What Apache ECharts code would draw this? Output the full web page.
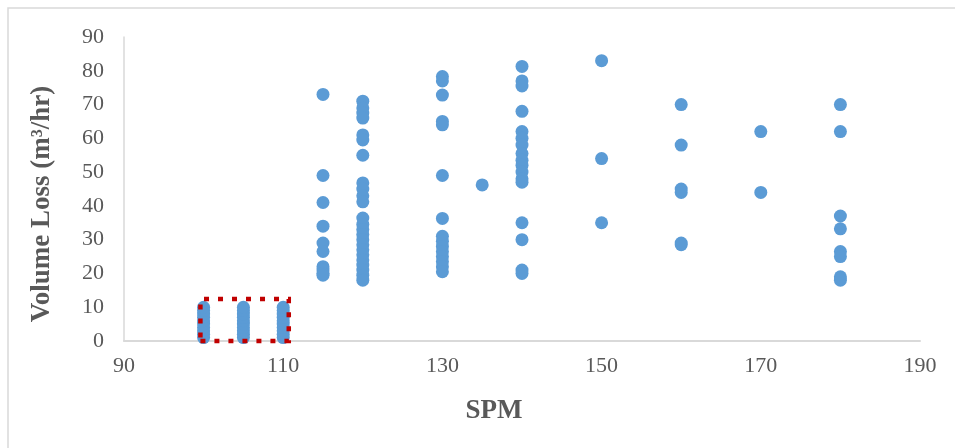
<!DOCTYPE html>
<html>
<head>
<meta charset="utf-8">
<script src="https://cdn.jsdelivr.net/npm/echarts@6/dist/echarts.min.js"></script>
<style>
  html, body { margin: 0; padding: 0; background: #ffffff; }
  #chart { width: 955px; height: 448px; }
</style>
</head>
<body>
<div id="chart"></div>
<script>
// Strokes per minute (SPM) against measured volume loss, one column of readings per SPM setting
const spm100 = [1, 2, 3, 4, 5, 6, 7, 8, 9, 10];
const spm105 = [1, 2, 3, 4, 5, 6, 7, 8, 9, 10];
const spm110 = [1, 2, 3, 4, 5, 6, 7, 8, 9, 10];
const spm115 = [73, 49, 41, 34, 29, 26.5, 22, 21, 20, 19.5];
const spm120 = [71, 69, 67.5, 66, 61, 59.5, 55, 46.8, 45, 43, 41.2,
                36.4, 34.5, 33, 31.5, 30, 28.5, 27, 25.5, 24, 22.5, 21, 19.5, 18];
const spm130 = [78.3, 77, 72.8, 65, 64, 49, 36.3, 31, 29.5, 28, 26.5, 25, 23.5, 22, 20.5];
const spm135 = [46.2];
const spm140 = [81.3, 77, 75.5, 68, 62, 60, 58, 55.5, 53.5, 52, 50, 48, 47, 35, 30, 21, 20];
const spm150 = [83, 54, 35];
const spm160 = [70, 58, 45, 44, 29, 28.5];
const spm170 = [62, 44];
const spm180 = [70, 62, 37, 33.2, 26.5, 25, 19, 18];

const columns = [
  [100, spm100], [105, spm105], [110, spm110], [115, spm115],
  [120, spm120], [130, spm130], [135, spm135], [140, spm140],
  [150, spm150], [160, spm160], [170, spm170], [180, spm180]
];

// Highlighted low-SPM region (SPM and volume loss bounds)
const highlightSpm = [99.6, 110.7];
const highlightLoss = [0, 12.4];

const xTicks = { min: 90, max: 190, interval: 20 };
const yTicks = { min: 0, max: 90, interval: 10 };

const points = [];
columns.forEach(([spm, values]) => values.forEach(v => points.push([spm, v])));

// Closed outline of the highlighted region, drawn above the markers
const highlightOutline = [
  [highlightSpm[0], highlightLoss[0]],
  [highlightSpm[1], highlightLoss[0]],
  [highlightSpm[1], highlightLoss[1]],
  [highlightSpm[0], highlightLoss[1]],
  [highlightSpm[0], highlightLoss[0]]
];

const chart = echarts.init(document.getElementById('chart'), null, { renderer: 'canvas' });

const labelFont = {
  color: '#595959',
  fontFamily: 'Liberation Serif',
  fontSize: 22
};

chart.setOption({
  animation: false,
  backgroundColor: '#ffffff',
  grid: { left: 124, right: 35, top: 37, bottom: 107 },
  xAxis: {
    type: 'value',
    min: xTicks.min,
    max: xTicks.max,
    interval: xTicks.interval,
    axisLine: { show: true, lineStyle: { color: '#d9d9d9', width: 2 } },
    axisTick: { show: false },
    splitLine: { show: false },
    axisLabel: Object.assign({ margin: 14 }, labelFont)
  },
  yAxis: {
    type: 'value',
    min: yTicks.min,
    max: yTicks.max,
    interval: yTicks.interval,
    axisLine: { show: true, lineStyle: { color: '#d9d9d9', width: 1.5 } },
    axisTick: { show: false },
    splitLine: { show: false },
    axisLabel: Object.assign({ margin: 20 }, labelFont)
  },
  series: [
    {
      type: 'scatter',
      data: points,
      symbol: 'circle',
      symbolSize: 13,
      itemStyle: { color: '#5b9bd5', opacity: 1 },
      z: 2
    },
    {
      type: 'line',
      data: highlightOutline,
      symbol: 'none',
      silent: true,
      clip: false,
      lineStyle: {
        color: '#c00000',
        width: 4.5,
        type: [5, 9],
        cap: 'butt',
        join: 'miter'
      },
      z: 6
    }
  ],
  graphic: [
    {
      type: 'rect',
      silent: true,
      shape: { x: 8, y: 8, width: 1000, height: 500 },
      style: { fill: 'none', stroke: '#d9d9d9', lineWidth: 1.5 },
      z: -1
    },
    {
      type: 'text',
      x: 42,
      y: 204,
      rotation: Math.PI / 2,
      style: {
        text: 'Volume Loss (m³/hr)',
        fill: '#595959',
        font: 'bold 27px "Liberation Serif"',
        align: 'center',
        verticalAlign: 'middle'
      }
    },
    {
      type: 'text',
      x: 494,
      y: 411,
      style: {
        text: 'SPM',
        fill: '#595959',
        font: 'bold 27px "Liberation Serif"',
        align: 'center',
        verticalAlign: 'middle'
      }
    }
  ]
});
</script>
</body>
</html>
